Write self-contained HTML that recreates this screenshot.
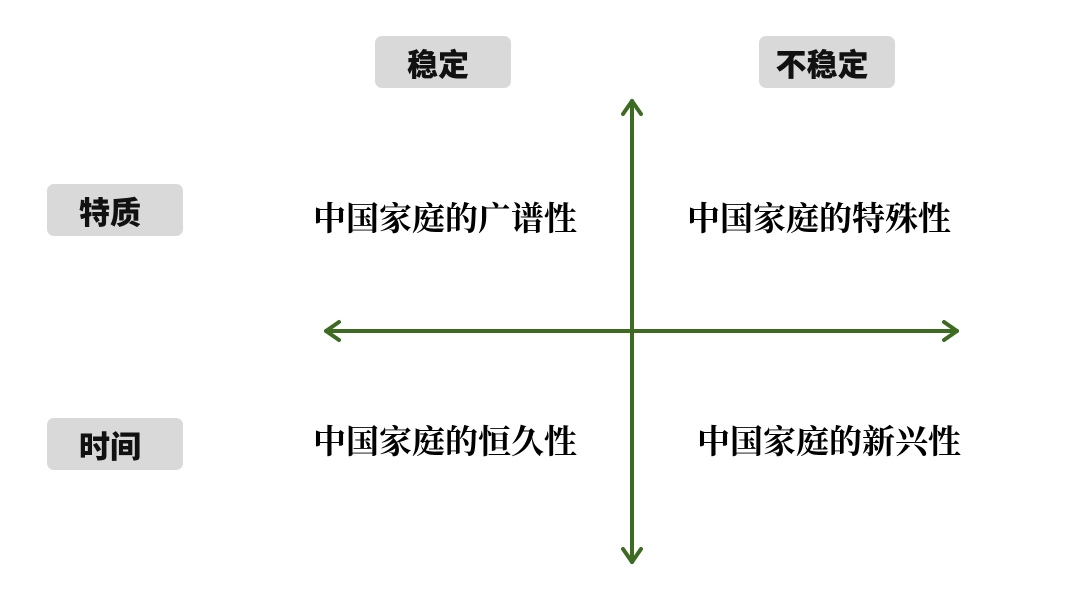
<!DOCTYPE html>
<html><head><meta charset="utf-8"><style>
body{margin:0;width:1080px;height:594px;background:#fff;position:relative;overflow:hidden}
.b{position:absolute;background:#d9d9d9;border-radius:7px;width:136px;height:52px;display:flex;align-items:center;justify-content:center;font:900 31px "Noto Sans CJK SC",sans-serif;color:#111;box-sizing:border-box;padding-right:10px}
.t{position:absolute;font:700 33px "Noto Serif CJK SC",serif;color:#000;white-space:nowrap;line-height:40px}
</style></head><body>
<div class="b" style="left:375px;top:36px">稳定</div>
<div class="b" style="left:759px;top:36px">不稳定</div>
<div class="b" style="left:47px;top:184px">特质</div>
<div class="b" style="left:47px;top:418px">时间</div>
<div class="t" style="left:313px;top:197px">中国家庭的广谱性</div>
<div class="t" style="left:687px;top:197px">中国家庭的特殊性</div>
<div class="t" style="left:313px;top:420px">中国家庭的恒久性</div>
<div class="t" style="left:697px;top:420px">中国家庭的新兴性</div>
<svg width="1080" height="594" style="position:absolute;left:0;top:0" fill="none" stroke="#3d6b22" stroke-width="4" stroke-linecap="round" stroke-linejoin="round">
<line x1="632" y1="101" x2="632" y2="562"/>
<line x1="326" y1="331" x2="957" y2="331"/>
<polyline points="623,114 632,101 641,114"/>
<polyline points="623,549 632,562 641,549"/>
<polyline points="339,322 326,331 339,340"/>
<polyline points="944,322 957,331 944,340"/>
</svg>
</body></html>
